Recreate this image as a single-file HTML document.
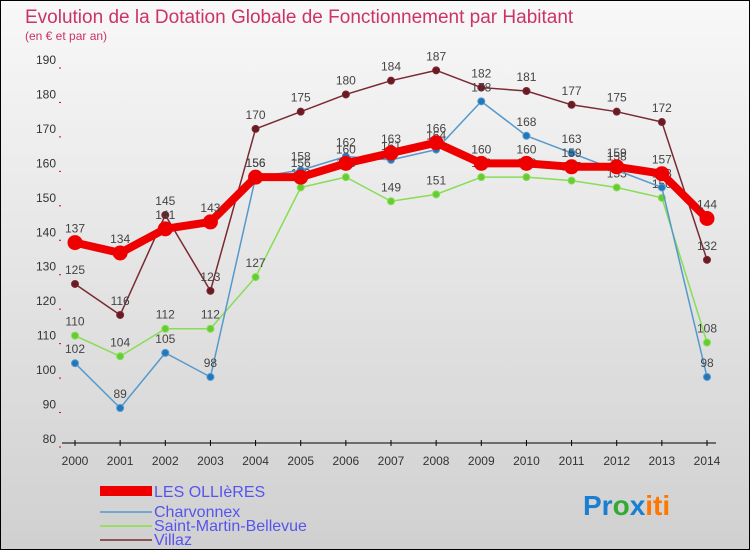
<!DOCTYPE html>
<html><head><meta charset="utf-8"><style>
body{margin:0;width:750px;height:550px;overflow:hidden;font-family:"Liberation Sans",sans-serif}
svg{display:block}
</style></head><body>
<svg width="750" height="550">
<defs><linearGradient id="bg" x1="0" y1="0" x2="0" y2="1"><stop offset="0" stop-color="#f8f8f8"/><stop offset="1" stop-color="#d0d0d0"/></linearGradient></defs>
<rect x="0.5" y="0.5" width="749" height="549" fill="url(#bg)" stroke="#000"/>
<text x="25" y="23" font-size="19" fill="#cc3366">Evolution de la Dotation Globale de Fonctionnement par Habitant</text>
<text x="25" y="40" font-size="12" fill="#cc3366">(en € et par an)</text>
<g id="axes"></g><g id="series"></g>
<g font-size="16" fill="#5555ee">
<rect x="100" y="486" width="52" height="10" fill="#ee0000"/>
<text x="154" y="497" fill="#5555ee">LES OLLIèRES</text>
<line x1="100" y1="512" x2="152" y2="512" stroke="#6fa8d0" stroke-width="2"/>
<text x="154" y="517" fill="#5555ee">Charvonnex</text>
<line x1="100" y1="526" x2="152" y2="526" stroke="#99dd66" stroke-width="2"/>
<text x="154" y="531" fill="#5555ee">Saint-Martin-Bellevue</text>
<line x1="100" y1="540" x2="152" y2="540" stroke="#8b5555" stroke-width="2"/>
<text x="154" y="545" fill="#5555ee">Villaz</text>
</g>
<g font-size="28" font-weight="bold">
<text x="583" y="515"><tspan fill="#1a7fd0">Pr</tspan><tspan fill="#33aa33">o</tspan><tspan fill="#1a7fd0">x</tspan><tspan fill="#ff7700">iti</tspan></text>
</g>
</svg>
<script>
const years=[2000,2001,2002,2003,2004,2005,2006,2007,2008,2009,2010,2011,2012,2013,2014];
const yTicks=[80,90,100,110,120,130,140,150,160,170,180,190];
const lesOllieres=[137,134,141,143,156,156,160,163,166,160,160,159,159,157,144];
const charvonnex=[102,89,105,98,156,158,162,161,164,178,168,163,158,153,98];
const saintMartin=[110,104,112,112,127,153,156,149,151,156,156,155,153,150,108];
const villaz=[125,116,145,123,170,175,180,184,187,182,181,177,175,172,132];
const NS="http://www.w3.org/2000/svg";
const X=i=>75+i*(707-75)/(years.length-1);
const Y=v=>439-(v-80)*(439-60)/110;
function mk(t,a,p){const e=document.createElementNS(NS,t);for(const k in a)e.setAttribute(k,a[k]);p.appendChild(e);return e;}
const ax=document.getElementById('axes');
const xa=mk('line',{x1:62,y1:443,x2:716,y2:443,stroke:'#000'},ax);


years.forEach((y,i)=>{
 mk('line',{x1:X(i),y1:440,x2:X(i),y2:446,stroke:'#000'},ax);
 const t=mk('text',{x:X(i),y:465,'font-size':12,'text-anchor':'middle',fill:'#333'},ax);t.textContent=y;
 
 
});
yTicks.forEach(v=>{
 const t=mk('text',{x:56,y:Y(v)+4,'font-size':12,'text-anchor':'end',fill:'#333'},ax);t.textContent=v;
 
 
 mk('line',{x1:59,y1:Y(v)+8,x2:61,y2:Y(v)+8,stroke:'#e00'},ax);
});
const sg=document.getElementById('series');
function draw(vals,color,w,r,name,dot){
 const g=mk('g',{},sg);
 
 
 const pl=mk('polyline',{points:vals.map((v,i)=>X(i)+','+Y(v)).join(' '),fill:'none',stroke:color,'stroke-width':w,'stroke-linejoin':'round'},g);
 
 
 vals.forEach((v,i)=>{
  const c=mk('circle',{cx:X(i),cy:Y(v),r:r,fill:dot,stroke:color,'stroke-width':1},g);
  
  
  const t=mk('text',{x:X(i),y:Y(v)-10,'font-size':12,'text-anchor':'middle',fill:'#444'},g);t.textContent=v;
  
  
 });
}
draw(villaz,'#7a2a33',1.5,3.5,'villaz','#6a1a22');
draw(saintMartin,'#88dd55',1.5,3.5,'saint-martin-bellevue','#66cc33');
draw(charvonnex,'#5599cc',1.5,3.5,'charvonnex','#2277bb');
draw(lesOllieres,'#ee0000',8,7,'les-ollieres','#ee0000');
</script>
</body></html>
